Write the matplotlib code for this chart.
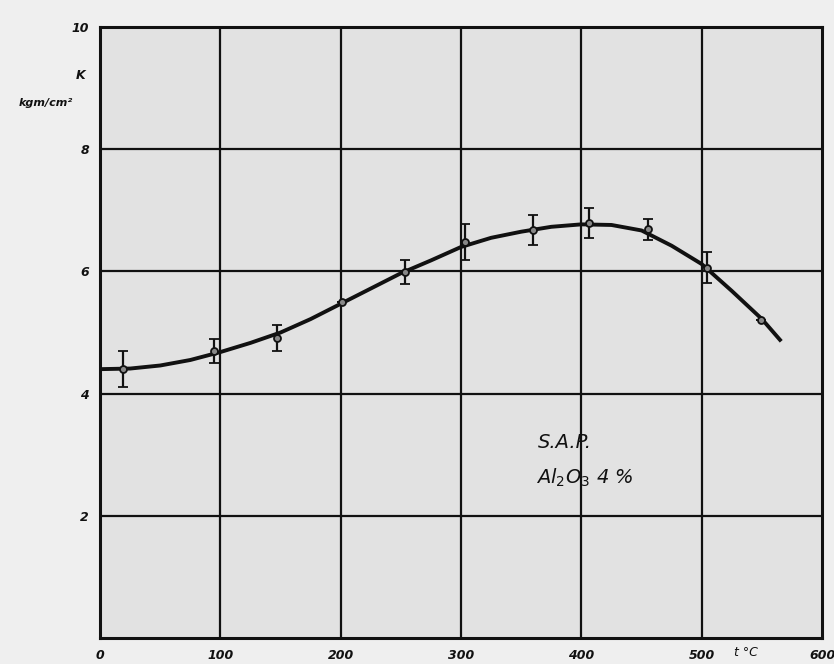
import matplotlib
matplotlib.use("Agg")
import matplotlib.pyplot as plt
import numpy as np

# measured points
temp_c = [19, 95, 147, 201, 253, 303, 360, 406, 455, 504, 549]
k_value = [4.40, 4.70, 4.91, 5.50, 5.99, 6.48, 6.68, 6.79, 6.69, 6.06, 5.20]
k_err = [0.30, 0.20, 0.22, 0.0, 0.20, 0.30, 0.25, 0.25, 0.17, 0.25, 0.0]

# fitted curve
curve_t = [0, 25, 50, 75, 100, 125, 150, 175, 200, 225, 250, 275, 300, 325,
           350, 375, 400, 425, 450, 475, 500, 525, 550, 565]
curve_k = [4.40, 4.41, 4.46, 4.55, 4.68, 4.83, 5.00, 5.22, 5.47, 5.72, 5.97,
           6.18, 6.40, 6.55, 6.65, 6.73, 6.77, 6.76, 6.67, 6.42, 6.12, 5.68,
           5.22, 4.88]

x_ticks = [0, 100, 200, 300, 400, 500, 600]
x_labels = ["0", "100", "200", "300", "400", "500", "600"]
y_ticks = [2, 4, 6, 8, 10]
y_labels = ["2", "4", "6", "8", "10"]

fig = plt.figure(figsize=(8.34, 6.64), dpi=100, facecolor="#efefef")
ax = fig.add_axes([0.120, 0.0392, 0.8657, 0.9201])
ax.set_facecolor("#e2e2e2")
ax.set_xlim(0, 600)
ax.set_ylim(0, 10)

for v in x_ticks[1:-1]:
    ax.axvline(v, color="#111111", lw=1.6, zorder=1)
for v in y_ticks[:-1]:
    ax.axhline(v, color="#111111", lw=1.6, zorder=1)
for s in ax.spines.values():
    s.set_linewidth(2.2)
    s.set_color("#111111")

ax.plot(curve_t, curve_k, color="#111111", lw=2.8, zorder=3)
ax.errorbar(temp_c, k_value, yerr=k_err, fmt="o", color="#111111",
            ms=5, mfc="#888888", mec="#111111", mew=1.3,
            ecolor="#111111", elinewidth=1.6, capsize=3.5, capthick=1.6, zorder=4)

ax.set_xticks(x_ticks)
ax.set_xticklabels(x_labels)
ax.set_yticks(y_ticks)
ax.set_yticklabels(y_labels)
ax.tick_params(length=0, pad=8, labelsize=9)
for lab in ax.get_xticklabels() + ax.get_yticklabels():
    lab.set_fontstyle("italic")
    lab.set_fontweight("bold")
    lab.set_color("#111111")

fig.text(0.097, 0.887, "K", fontsize=9, style="italic", fontweight="bold",
         ha="center", va="center", color="#111111")
fig.text(0.055, 0.845, "kgm/cm²", fontsize=8, style="italic", fontweight="bold",
         ha="center", va="center", color="#111111")
fig.text(0.895, 0.018, "t °C", fontsize=9, style="italic",
         ha="center", va="center", color="#111111")

ax.text(386, 3.2, "S.A.P.", fontsize=14, style="italic", ha="center",
        va="center", color="#111111")
ax.text(403, 2.62, "Al$_2$O$_3$ 4 %", fontsize=14, style="italic", ha="center",
        va="center", color="#111111")

fig.savefig("out.png", dpi=100, facecolor=fig.get_facecolor())
